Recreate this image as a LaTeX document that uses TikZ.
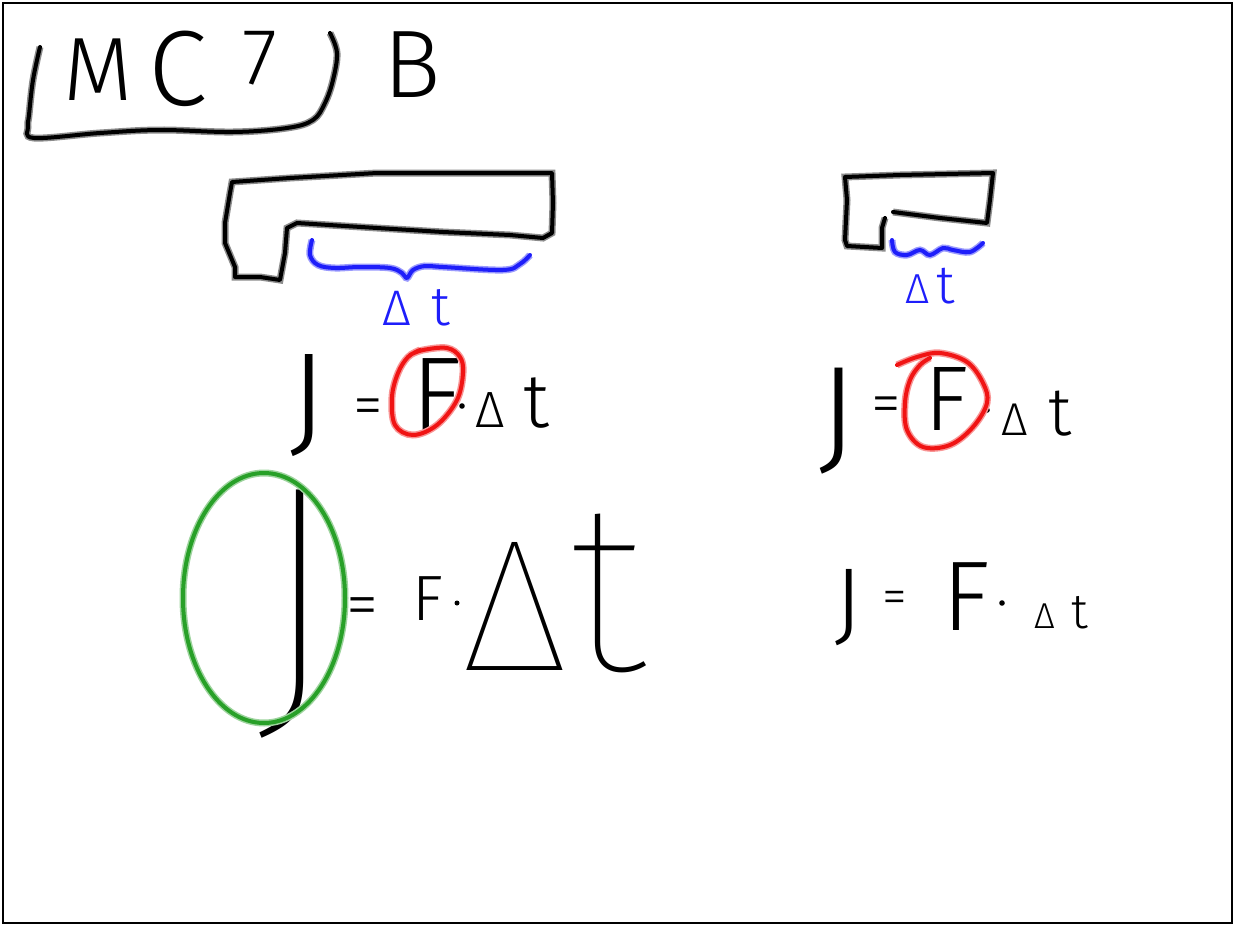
\documentclass[tikz,border=0pt]{standalone}
\usepackage{fontspec}
\newfontfamily\handfont{Fira Sans Light}
\newfontfamily\thinfont{Fira Sans Thin}
\newcommand*{\sz}[1]{\fontsize{#1}{#1}\selectfont}
% delta and t of two sizes, #2 = distance of their centres
\newcommand*{\dt}[3]{\makebox[0pt]{\sz{#1}Δ}\kern#2pt\makebox[0pt]{\sz{#3}t}}
\definecolor{penblue}{RGB}{30,30,250}
\definecolor{penred}{RGB}{240,20,20}
\definecolor{pengreen}{RGB}{40,160,40}
\tikzset{
	pen/.style={draw=#1, line width=4pt, line cap=round, line join=round,
		preaction={draw=#1!45, line width=7pt}},
	pen/.default=black,
	glyph/.style={anchor=base, inner sep=0pt, font=\handfont},
	delta/.style={anchor=base west, inner sep=0pt, font=\handfont},
}

\begin{document}
\begin{tikzpicture}[x=1pt,y=-1pt]

	\useasboundingbox (0,0) rectangle (1235,926);
	\draw[line width=2.5pt] (3,3) rectangle (1232,923);

	% title
	\draw[pen] plot[smooth,tension=0.6] coordinates {(40,47) (33,80) (29,115) (28,127) (34,138) (100,133) (160,130) (233,132) (287,128) (313,120) (325,103) (333,80) (337,53) (330,33)};
	\node[glyph, font={\handfont\sz{90}}] (tm) at (98,100) {M};
	\node[glyph, font={\handfont\sz{107}}] (tc) at (178,105) {C};
	\node[glyph, font={\handfont\sz{80}}] (t7) at (260,84) {7};
	\node[glyph, font={\handfont\sz{96}}] (tb) at (412,97) {B};

	% long pulse
	\draw[pen] (232,182) -- (290,178) -- (377,173) -- (465,173) -- (552,173) -- (553,203) -- (552,233) -- (543,238) -- (510,235) -- (443,232) -- (377,228) -- (297,223) -- (287,228) -- (285,253) -- (280,280) -- (260,277) -- (235,277) -- (235,267) -- (225,243) -- (225,223) -- (230,193) -- cycle;
	\draw[pen=penblue] plot[smooth,tension=0.6] coordinates {(312,240) (310,255) (318,265) (335,268) (360,267) (390,268) (402,273) (407,278) (413,270) (425,266) (443,267) (503,270) (520,264) (530,255)};
	\node[delta, text=penblue] (dtl) at (397,325) {\dt{50}{44}{55}};

	% short pulse
	\draw[pen] (885,218) -- (882,228) -- (882,248) -- (847,246) -- (845,240) -- (847,200) -- (845,177) -- (900,175) -- (993,173) -- (990,200) -- (987,223) -- (940,218) -- (893,212);
	\draw[pen=penblue] plot[smooth,tension=0.6] coordinates {(892,240) (895,252) (907,255) (920,250) (930,255) (943,248) (953,250) (970,252) (983,243)};
	\node[delta, text=penblue] (dtr) at (917,303) {\dt{42}{28}{54}};

	% J = F . dt, left
	\node[glyph, font={\handfont\sz{127}}] (jl) at (308,441) {J};
	\node[glyph, font={\handfont\sz{60}}] (el) at (368,425) {=};
	\node[glyph, font={\handfont\sz{105}}] (fl) at (437,430) {F};
	\fill (462,406) circle (2.8);
	\node[delta] (dl) at (490,427) {\dt{51}{46}{76}};
	\draw[pen=penred] plot[smooth,tension=0.6] coordinates {(410,355) (423,350) (447,348) (460,357) (463,373) (457,400) (437,425) (413,435) (395,425) (392,397) (398,373) (408,357) (420,350)};

	% J = F . dt, right
	\node[glyph, font={\handfont\sz{132}}] (jr) at (838,458) {J};
	\node[glyph, font={\handfont\sz{60}}] (er) at (886,423) {=};
	\node[glyph, font={\handfont\sz{92}}] (fr) at (947,430) {F};
	\fill (987,410) circle (2.8);
	\node[delta] (dr) at (1015,435) {\dt{46}{45}{68}};
	\draw[pen=penred] plot[smooth,tension=0.6] coordinates {(897,365) (917,357) (940,353) (967,362) (983,383) (987,403) (973,427) (950,445) (923,447) (907,430) (905,403) (910,380) (920,365) (930,358)};

	% big J
	\node[glyph, font={\thinfont\sz{318}}] (jb) at (297,706) {J};
	\node[glyph, font={\handfont\sz{65}}] (eb) at (363,626) {=};
	\node[glyph, font={\handfont\sz{64}}] (fb) at (428,620) {F};
	\fill (457,603) circle (2.5);
	\node[delta, font=\thinfont] (db) at (515,670) {\dt{188}{92}{240}};
	\draw[pen=pengreen] (264,598) ellipse [x radius=81, y radius=125];

	% small J
	\node[glyph, font={\handfont\sz{95}}] (js) at (848,634) {J};
	\node[glyph, font={\handfont\sz{50}}] (es) at (895,613) {=};
	\node[glyph, font={\handfont\sz{99}}] (fs) at (966,630) {F};
	\fill (1002,603) circle (2.8);
	\node[delta] (ds) at (1045,628) {\dt{36}{35}{49}};

\end{tikzpicture}
\end{document}
